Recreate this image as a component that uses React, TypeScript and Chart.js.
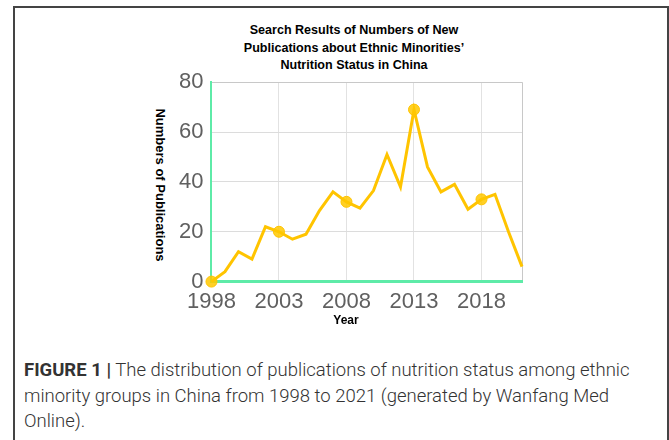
import React, { useEffect, useRef } from "react";
import { Chart, registerables } from "chart.js";

Chart.register(...registerables);

const years = [
  "1998", "1999", "2000", "2001", "2002", "2003", "2004", "2005", "2006", "2007", "2008", "2009",
  "2010", "2011", "2012", "2013", "2014", "2015", "2016", "2017", "2018", "2019", "2020", "2021",
];
const publications = [0, 4, 12, 9, 22, 20, 17, 19, 28.5, 36, 32, 29.5, 36.5, 51, 38, 69, 46, 36, 39, 29, 33, 35, 20, 6];
const yTicks = [0, 20, 40, 60, 80];
const titleLines = ["Search Results of Numbers of New", "Publications about Ethnic Minorities\u2019", "Nutrition Status in China"];

export default function App() {
  const ref = useRef<HTMLCanvasElement | null>(null);
  useEffect(() => {
    if (!ref.current) return;
    const chart = new Chart(ref.current, {
      type: "line",
      data: {
        labels: years,
        datasets: [
          {
            data: publications,
            borderColor: "#FFC400",
            borderWidth: 3,
            pointRadius: (c: any) => (c.dataIndex % 5 === 0 ? 5.5 : 0),
            pointBackgroundColor: "rgba(255,200,0,0.85)",
            pointBorderColor: "#FFC400",
            pointBorderWidth: 1,
            tension: 0,
            clip: false as any,
          },
        ],
      },
      options: {
        animation: false,
        responsive: false,
        layout: { padding: { left: 0, right: 8, top: 0, bottom: 0 } },
        plugins: {
          legend: { display: false },
          tooltip: { enabled: false },
        },
        scales: {
          x: {
            type: "category",
            offset: false,
            grid: {
              color: (c: any) =>
                c.index === years.length - 1 ? "#c8c8c8" : c.index % 5 === 0 ? "#e2e2e2" : "rgba(0,0,0,0)",
              drawTicks: false,
              lineWidth: 1,
            },
            border: { color: "#5EEBA8", width: 3 },
            ticks: {
              autoSkip: false,
              maxRotation: 0,
              color: "#606060",
              padding: 7,
              font: { family: "Liberation Sans, Arial", size: 22 },
              callback: (_v: any, i: number) => (i % 5 === 0 ? years[i] : ""),
            },
          },
          y: {
            min: 0,
            max: 80,
            afterBuildTicks: (s: any) => {
              s.ticks = yTicks.map((v) => ({ value: v }));
            },
            grid: {
              color: (c: any) => (c.index === yTicks.length - 1 ? "#c8c8c8" : "#dcdcdc"),
              drawTicks: false,
            },
            border: { color: "#5EEBA8", width: 2 },
            ticks: {
              color: "#606060",
              padding: 8,
              font: { family: "Liberation Sans, Arial", size: 22 },
            },
          },
        },
      },
    });
    return () => chart.destroy();
  }, []);

  return (
    <div style={{ position: "fixed", left: 0, top: 0, width: 669, height: 440, background: "#fff", overflow: "hidden" }}>
      <div
        style={{
          position: "absolute",
          left: 13,
          top: 6,
          width: 652,
          height: 450,
          borderTop: "2px solid #444",
          borderLeft: "2px solid #444",
          borderRight: "2px solid #444",
        }}
      />
      <div
        style={{
          position: "absolute",
          left: 354,
          top: 21,
          transform: "translateX(-50%) scaleX(0.93)",
          whiteSpace: "nowrap",
          textAlign: "center",
          font: "bold 13.5px 'Liberation Sans', Arial",
          lineHeight: "17.5px",
          color: "#000",
        }}
      >
        {titleLines.map((t, i) => (
          <div key={i}>{t}</div>
        ))}
      </div>
      <canvas ref={ref} width={359} height={261} style={{ position: "absolute", left: 171, top: 61 }} />
      <div
        style={{
          position: "absolute",
          left: 160,
          top: 185,
          transform: "translate(-50%, -50%) rotate(90deg)",
          whiteSpace: "nowrap",
          font: "bold 13px 'Liberation Sans', Arial",
          color: "#000",
        }}
      >
        Numbers of Publications
      </div>
      <div
        style={{
          position: "absolute",
          left: 346,
          top: 320,
          transform: "translate(-50%, -50%)",
          whiteSpace: "nowrap",
          font: "bold 12px 'Liberation Sans', Arial",
          color: "#000",
        }}
      >
        Year
      </div>
      <div
        style={{
          position: "absolute",
          left: 24,
          top: 358,
          width: 630,
          font: "300 18.5px Roboto, sans-serif",
          lineHeight: "25.5px",
          color: "#333",
        }}
      >
        <b style={{ fontWeight: 700 }}>FIGURE 1 |</b> The distribution of publications of nutrition status among ethnic
        minority groups in China from 1998 to 2021 (generated by Wanfang Med Online).
      </div>
    </div>
  );
}
